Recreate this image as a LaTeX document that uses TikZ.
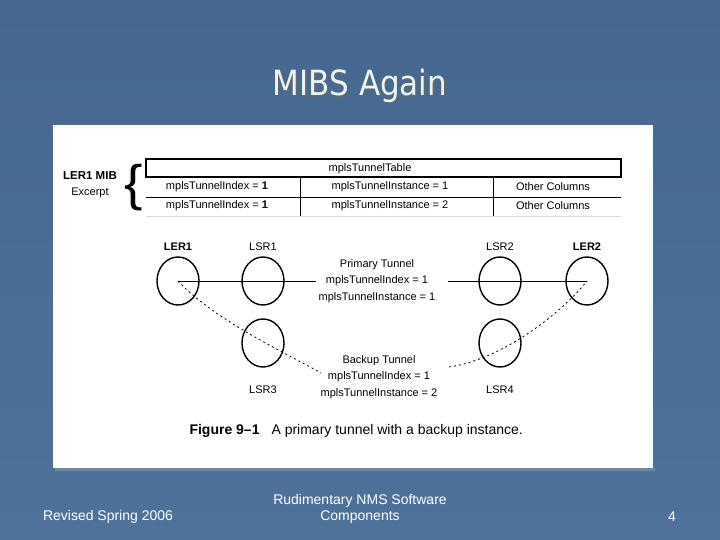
\documentclass[tikz,border=0pt]{standalone}
\usepackage{fontspec}
\setmainfont{Liberation Sans}
\newfontfamily\titlefont{DejaVu Sans}
\usetikzlibrary{calc,shapes.geometric}
\definecolor{slidebg}{RGB}{78,114,154}
\definecolor{slidebgtop}{RGB}{70,104,144}
\definecolor{titlecol}{RGB}{232,244,250}
\begin{document}
\begin{tikzpicture}[x=1pt,y=-1pt,
  router/.style={draw, line width=1.4pt, ellipse, minimum width=42pt, minimum height=48pt, inner sep=0pt},
  rlabel/.style={font=\fontsize{11}{13}\selectfont},
  tlabel/.style={font=\fontsize{11}{12}\selectfont, inner sep=0pt},
  footer/.style={text=white, font=\fontsize{14}{16}\selectfont, align=center},
  backup/.style={dash pattern=on 2pt off 3pt, line width=0.8pt}]
\useasboundingbox (0,0) rectangle (720,540);
\shade[top color=slidebgtop, bottom color=slidebg] (0,0) rectangle (720,540);
% title
\node[text=black!60, yscale=1.12, font=\titlefont\fontsize{31}{34}\selectfont] at (361.5,87.5) {MIBS Again};
\node (title) [text=titlecol, yscale=1.12, font=\titlefont\fontsize{31}{34}\selectfont] at (360,86) {MIBS Again};
% white panel
\fill[black!40, opacity=0.5] (55,468) rectangle (655,471);
\fill[white] (53,125) rectangle (653,468);
% MIB label
\node (mib) [font=\bfseries\fontsize{11.5}{13}\selectfont] at (90,176) {LER1 MIB};
\node (exc) [font=\fontsize{11}{13}\selectfont] at (90,193) {Excerpt};
\node (brace) [font=\fontsize{50}{50}\selectfont, inner sep=0pt, xscale=1.1] at (134,188) {\{};
% table
\draw[line width=1.3pt] (146,159) rectangle (621,177);
\node (thead) [tlabel] at (370,169) {mplsTunnelTable};
\draw[line width=0.5pt] (146,197) -- (621,197);
\draw[black!15, line width=0.4pt] (146,216) -- (621,216);
\draw[line width=0.6pt] (300,177) -- (300,216);
\draw[line width=0.6pt] (493,177) -- (493,216);
\node (c11) [tlabel] at (217,187) {mplsTunnelIndex = \textbf{1}};
\node (c12) [tlabel] at (390,187) {mplsTunnelInstance = 1};
\node (c13) [tlabel] at (553,187) {Other Columns};
\node (c21) [tlabel] at (217,205.5) {mplsTunnelIndex = \textbf{1}};
\node (c22) [tlabel] at (390,205.5) {mplsTunnelInstance = 2};
\node (c23) [tlabel] at (553,205.5) {Other Columns};
% routers
\node (ler1) [router] at (178,281) {};
\node (lsr1) [router] at (263,281) {};
\node (lsr2) [router] at (500,281) {};
\node (ler2) [router] at (587,281) {};
\node (lsr3) [router] at (263,343) {};
\node (lsr4) [router] at (500,343) {};
\node[rlabel, font=\bfseries\fontsize{11}{13}\selectfont] at (178,247) {LER1};
\node[rlabel] at (263,247) {LSR1};
\node[rlabel] at (500,247) {LSR2};
\node[rlabel, font=\bfseries\fontsize{11}{13}\selectfont] at (587,247) {LER2};
\node[rlabel] at (263,390) {LSR3};
\node[rlabel] at (500,390) {LSR4};
% tunnel texts
\node (prim) [rlabel, align=center, font=\fontsize{11}{16.5}\selectfont] at (377,281) {Primary Tunnel\\mplsTunnelIndex = 1\\mplsTunnelInstance = 1};
\node (back) [rlabel, align=center, font=\fontsize{11}{16.5}\selectfont] at (379,377) {Backup Tunnel\\mplsTunnelIndex = 1\\mplsTunnelInstance = 2};
% primary tunnel line
\coordinate (pl) at (316,281);
\coordinate (pr) at (448,281);
\draw[line width=0.7pt] (ler1.center) -- (pl);
\draw[line width=0.7pt] (pr) -- (ler2.center);
% backup tunnel
\coordinate (bl) at (321,373);
\coordinate (br) at (449,367);
\draw[backup] (ler1.center) .. controls (215,320) and (280,350) .. (bl);
\draw[backup] (br) .. controls (500,360) and (560,315) .. (ler2.center);
% caption
\node (cap) [font=\fontsize{14}{16}\selectfont, anchor=west] at (186,431) {\textbf{Figure 9–1}\hspace{12pt}A primary tunnel with a backup instance.};
% footer
\node (f1) [footer] at (108,517) {Revised Spring 2006};
\node (f2) [footer] at (360,509) {Rudimentary NMS Software\\Components};
\node (f3) [footer] at (672,517) {4};
\end{tikzpicture}
\end{document}
